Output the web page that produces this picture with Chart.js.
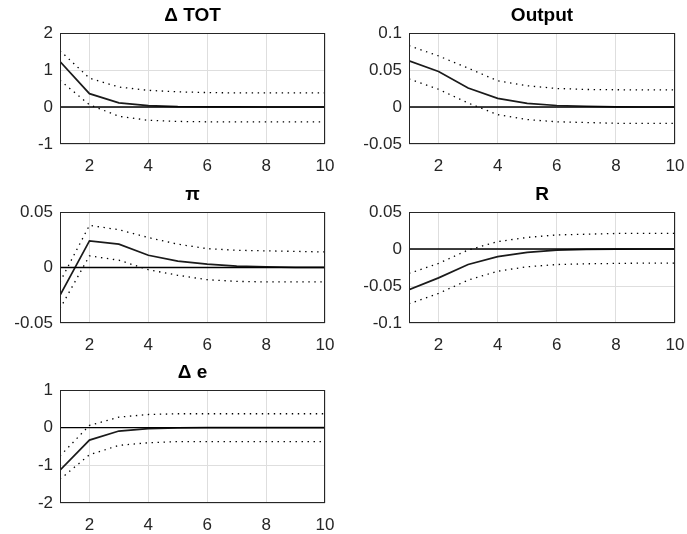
<!DOCTYPE html>
<html>
<head>
<meta charset="utf-8">
<script src="https://cdn.jsdelivr.net/npm/chart.js@4.4.1/dist/chart.umd.min.js"></script>
<style>
  body { margin: 0; background: #fff; }
  #fig { position: relative; width: 687px; height: 534px; overflow: hidden; }
  .panel { position: absolute; }
</style>
</head>
<body>
<div id="fig">
  <div class="panel" style="left:0px;top:0px;width:337px;height:175px"><canvas id="c1"></canvas></div>
  <div class="panel" style="left:349px;top:0px;width:338px;height:175px"><canvas id="c2"></canvas></div>
  <div class="panel" style="left:0px;top:179px;width:337px;height:175px"><canvas id="c3"></canvas></div>
  <div class="panel" style="left:349px;top:179px;width:338px;height:175px"><canvas id="c4"></canvas></div>
  <div class="panel" style="left:0px;top:357px;width:337px;height:177px"><canvas id="c5"></canvas></div>
</div>
<script>
const steps = [1, 2, 3, 4, 5, 6, 7, 8, 9, 10];
const xTicks = [2, 4, 6, 8, 10];
const zeroLine = [0, 0, 0, 0, 0, 0, 0, 0, 0, 0];

// Δ TOT
const totMean = [1.23, 0.36, 0.11, 0.035, 0.01, 0.003, 0.001, 0, 0, 0];
const totUpper = [1.52, 0.78, 0.54, 0.45, 0.41, 0.39, 0.38, 0.38, 0.38, 0.38];
const totLower = [0.72, 0.06, -0.25, -0.36, -0.39, -0.4, -0.4, -0.4, -0.4, -0.4];
const totTicks = [-1, 0, 1, 2];

// Output
const outMean = [0.0624, 0.048, 0.0256, 0.0116, 0.005, 0.002, 0.001, 0.0003, 0, 0];
const outUpper = [0.083, 0.069, 0.0525, 0.0354, 0.0287, 0.025, 0.0237, 0.0233, 0.0232, 0.0232];
const outLower = [0.038, 0.024, 0.0054, -0.0104, -0.017, -0.02, -0.021, -0.022, -0.022, -0.022];
const outTicks = [-0.05, 0, 0.05, 0.1];

// π
const piMean = [-0.025, 0.024, 0.021, 0.011, 0.0057, 0.003, 0.0012, 0.0005, 0.0002, 0.0001];
const piUpper = [-0.013, 0.038, 0.034, 0.027, 0.021, 0.017, 0.0155, 0.015, 0.0145, 0.014];
const piLower = [-0.037, 0.0105, 0.0066, -0.002, -0.007, -0.011, -0.0125, -0.013, -0.013, -0.013];
const piTicks = [-0.05, 0, 0.05];

// R
const rMean = [-0.055, -0.039, -0.021, -0.0104, -0.0046, -0.0015, -0.0005, -0.0002, 0, 0];
const rUpper = [-0.033, -0.0195, -0.0014, 0.0099, 0.0157, 0.019, 0.02, 0.021, 0.021, 0.021];
const rLower = [-0.074, -0.06, -0.042, -0.03, -0.024, -0.021, -0.02, -0.0195, -0.019, -0.019];
const rTicks = [-0.1, -0.05, 0, 0.05];

// Δ e
const eMean = [-1.13, -0.33, -0.09, -0.025, -0.005, 0, 0, 0, 0, 0];
const eUpper = [-0.75, 0.06, 0.28, 0.35, 0.37, 0.37, 0.37, 0.37, 0.37, 0.37];
const eLower = [-1.37, -0.72, -0.47, -0.4, -0.37, -0.37, -0.37, -0.37, -0.37, -0.37];
const eTicks = [-2, -1, 0, 1];

const FONT = "'Liberation Sans', Arial, Helvetica, sans-serif";
const GRID = "#dedede";
const TXT = "#262626";

// draws the full axes box round the plot area
const boxPlugin = {
  id: "box",
  afterDraw(chart) {
    const a = chart.chartArea;
    const ctx = chart.ctx;
    ctx.save();
    ctx.strokeStyle = TXT;
    ctx.lineWidth = 1;
    ctx.strokeRect(Math.round(a.left) + 0.5, Math.round(a.top) + 0.5,
      Math.round(a.right - a.left) - 1, Math.round(a.bottom - a.top) - 1);
    ctx.restore();
  }
};

const toPoints = (vals) => vals.map((v, i) => ({ x: steps[i], y: v }));

const makePanel = (id, title, mean, upper, lower, yTicks) => {
  const ctx = document.getElementById(id).getContext("2d");
  const dotted = {
    borderColor: "#000",
    borderWidth: 1.3,
    borderDash: [1.4, 4.6],
    pointRadius: 0,
    tension: 0,
  };
  return new Chart(ctx, {
    type: "line",
    data: {
      datasets: [
        { data: toPoints(upper), ...dotted },
        { data: toPoints(lower), ...dotted },
        { data: toPoints(zeroLine), borderColor: "#000", borderWidth: 1.3, pointRadius: 0 },
        { data: toPoints(mean), borderColor: "#1a1a1a", borderWidth: 1.7, pointRadius: 0, tension: 0 },
      ],
    },
    options: {
      responsive: true,
      maintainAspectRatio: false,
      animation: false,
      layout: { padding: { top: 0, right: 12, bottom: 0, left: 0 } },
      plugins: {
        legend: { display: false },
        tooltip: { enabled: false },
        title: {
          display: true,
          fullSize: false, // center over the plot area, like MATLAB
          text: title,
          color: "#000",
          font: { family: FONT, size: 19, weight: "bold", lineHeight: 1.2 },
          padding: { top: 4, bottom: 6.2 },
        },
      },
      scales: {
        x: {
          type: "linear",
          min: 1,
          max: 10,
          afterBuildTicks: (scale) => { scale.ticks = xTicks.map(v => ({ value: v })); },
          afterFit: (scale) => {
            scale.height = 31;
            scale.paddingLeft = 0;
            scale.paddingRight = 0;
          },
          grid: { color: GRID, drawTicks: false },
          border: { display: false },
          ticks: { color: TXT, font: { family: FONT, size: 17 }, padding: 12, maxRotation: 0 },
        },
        y: {
          min: yTicks[0],
          max: yTicks[yTicks.length - 1],
          afterBuildTicks: (scale) => { scale.ticks = yTicks.map(v => ({ value: v })); },
          afterFit: (scale) => { scale.width = 60; },
          grid: { color: GRID, drawTicks: false },
          border: { display: false },
          ticks: {
            color: TXT,
            font: { family: FONT, size: 17 },
            padding: 7,
            callback: (value) => String(value),
          },
        },
      },
    },
    plugins: [boxPlugin],
  });
};

makePanel("c1", "\u0394 TOT", totMean, totUpper, totLower, totTicks);
makePanel("c2", "Output", outMean, outUpper, outLower, outTicks);
makePanel("c3", "\u03c0", piMean, piUpper, piLower, piTicks);
makePanel("c4", "R", rMean, rUpper, rLower, rTicks);
makePanel("c5", "\u0394 e", eMean, eUpper, eLower, eTicks);
</script>
</body>
</html>
